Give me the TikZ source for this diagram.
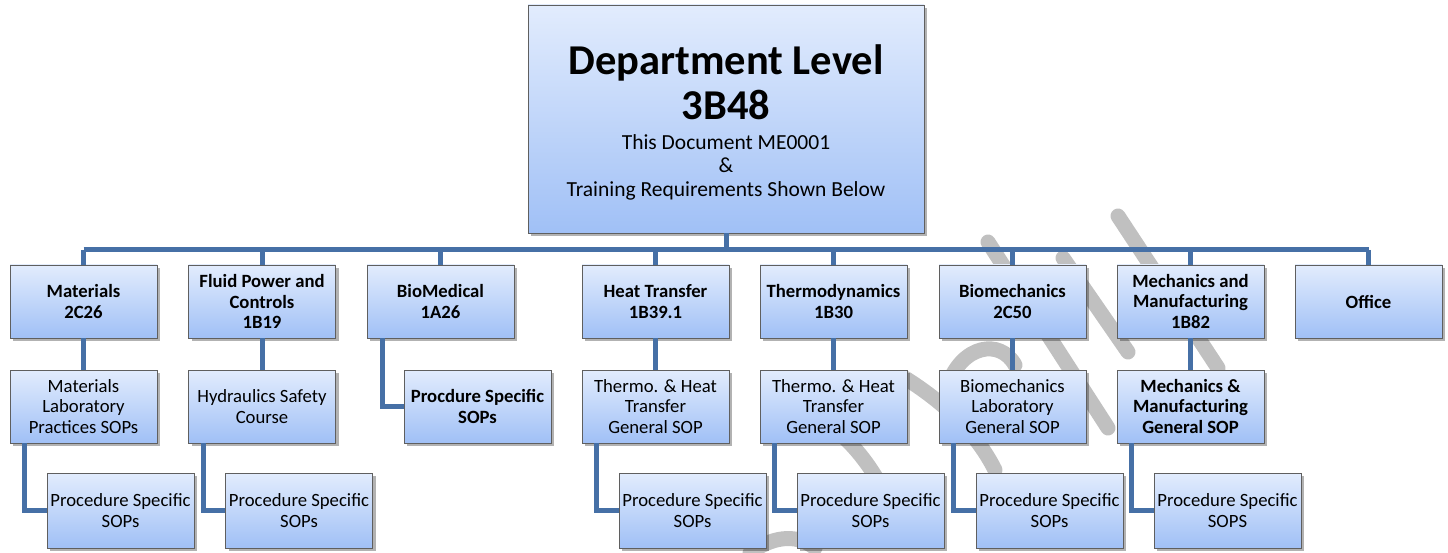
\documentclass[tikz,border=0pt]{standalone}
\usepackage{fontspec}
\setmainfont{Carlito}
\usetikzlibrary{positioning,shadows}
\definecolor{boxtop}{RGB}{226,236,253}
\definecolor{boxbot}{RGB}{160,192,246}
\definecolor{boxline}{RGB}{95,95,95}
\definecolor{linkblue}{RGB}{70,112,166}
\definecolor{draftgray}{RGB}{192,192,192}

\begin{document}
\begin{tikzpicture}[x=1pt,y=-1pt,
    unit/.style={draw=boxline, line width=0.8pt, top color=boxtop, bottom color=boxbot,
      drop shadow={shadow xshift=3pt, shadow yshift=-3pt, fill=black, opacity=0.3},
      minimum width=147pt, minimum height=73pt, inner sep=2pt, align=center,
      font=\fontsize{18.7}{20.5}\selectfont},
    dept/.style={unit, font=\fontsize{18.7}{20.5}\selectfont\bfseries},
    sop/.style={unit, minimum height=75pt},
    link/.style={draw=linkblue, line width=5pt},
    wmline/.style={draw=draftgray, line width=15pt, line cap=round}]
  \useasboundingbox (0,0) rectangle (1448,553);

  % draft stamp behind everything
  \draw[wmline] (1118,216) -- (1218,368);
  \draw[wmline] (988,242) -- (1108,428);
  \draw[wmline] (1063,258) -- (1128,352);
  \draw[wmline] (905,378) .. controls (940,400) and (975,430) .. (995,470);
  \draw[wmline] (830,425) .. controls (855,445) and (875,470) .. (890,505);
  \draw[wmline] (948,385) .. controls (962,345) and (1000,338) .. (1015,365);
  \draw[wmline] (750,553) .. controls (770,538) and (795,532) .. (815,548);

  % department box
  \node[unit, minimum width=396pt, minimum height=228pt] (top) at (726,119) {};
  \node[anchor=base, font=\fontsize{42.5}{45}\selectfont\bfseries] (ttlA) at (726,75) {Department Level};
  \node[anchor=base, font=\fontsize{42.5}{45}\selectfont\bfseries] (ttlB) at (726,120) {3B48};
  \node[anchor=base, font=\fontsize{21.5}{23.5}\selectfont] (subA) at (726,150) {This Document ME0001};
  \node[anchor=base, font=\fontsize{21.5}{23.5}\selectfont] (subB) at (726,173) {\&};
  \node[anchor=base, font=\fontsize{21.5}{23.5}\selectfont] (subC) at (726,197) {Training Requirements Shown Below};

  % labs
  \node[dept] (mat)     at (83.5,301.5)   {Materials\\2C26};
  \node[dept] (flu)     at (262,301.5)    {Fluid Power and\\Controls\\1B19};
  \node[dept] (bio)     at (440.5,301.5)  {BioMedical\\1A26};
  \node[dept] (heat)    at (655.5,301.5)  {Heat Transfer\\1B39.1};
  \node[dept] (thermo)  at (833.5,301.5)  {Thermodynamics\\1B30};
  \node[dept] (biomech) at (1012.5,301.5) {Biomechanics\\2C50};
  \node[dept] (mech)    at (1190.5,301.5) {Mechanics and\\Manufacturing\\1B82};
  \node[dept] (off)     at (1368.5,301.5) {Office};

  % general SOPs
  \node[unit] (mat2)     at (83.5,406.5)   {Materials\\Laboratory\\Practices SOPs};
  \node[unit] (flu2)     at (262,406.5)    {Hydraulics Safety\\Course};
  \node[dept] (bio2)     at (477.5,406.5)  {Procdure Specific\\SOPs};
  \node[unit] (heat2)    at (655.5,406.5)  {Thermo. \& Heat\\Transfer\\General SOP};
  \node[unit] (thermo2)  at (833.5,406.5)  {Thermo. \& Heat\\Transfer\\General SOP};
  \node[unit] (biomech2) at (1012.5,406.5) {Biomechanics\\Laboratory\\General SOP};
  \node[dept] (mech2)    at (1190.5,406.5) {Mechanics \&\\Manufacturing\\General SOP};

  % procedure specific
  \node[sop] (mat3)     at (120.5,510.5)  {Procedure Specific\\SOPs};
  \node[sop] (flu3)     at (299,510.5)    {Procedure Specific\\SOPs};
  \node[sop] (heat3)    at (692.5,510.5)  {Procedure Specific\\SOPs};
  \node[sop] (thermo3)  at (870.5,510.5)  {Procedure Specific\\SOPs};
  \node[sop] (biomech3) at (1049.5,510.5) {Procedure Specific\\SOPs};
  \node[sop] (mech3)    at (1227.5,510.5) {Procedure Specific\\SOPS};

  % tree lines
  \coordinate (bus) at (726,250);
  \draw[link] (top.south) -- (top.south |- bus);
  \draw[link] (mat.north |- bus) -- (off.north |- bus);
  \foreach \c in {mat,flu,bio,heat,thermo,biomech,mech,off}
    \draw[link] (\c.north |- bus) -- (\c.north);
  \foreach \c in {mat,flu,heat,thermo,biomech,mech}
    \draw[link] (\c.south) -- (\c2.north);
  \foreach \c in {mat,flu,heat,thermo,biomech,mech}
    \draw[link] ([xshift=15pt]\c2.south west) |- (\c3.west);
  \draw[link] ([xshift=16pt]bio.south west) |- (bio2.west);
\end{tikzpicture}
\end{document}
